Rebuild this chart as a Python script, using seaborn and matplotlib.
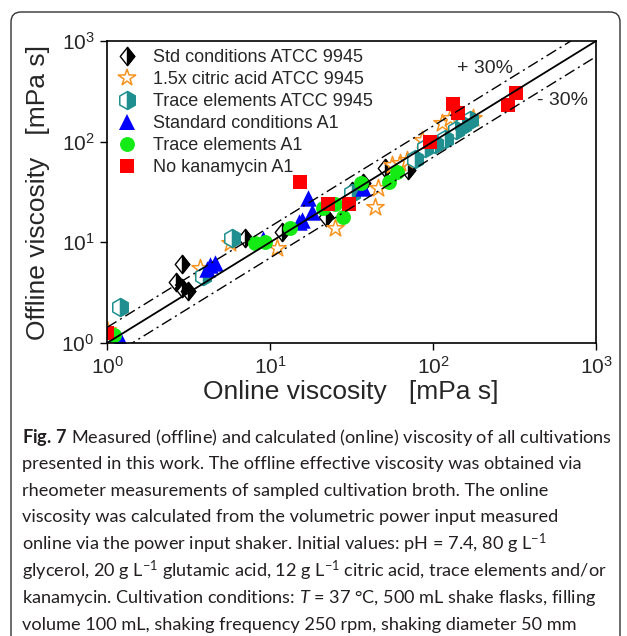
import numpy as np
import matplotlib
matplotlib.use("Agg")
import matplotlib.pyplot as plt
import seaborn as sns
from matplotlib.path import Path
from matplotlib.lines import Line2D
from matplotlib.patches import FancyBboxPatch

# --- data (online, offline viscosity in mPa s) ---
std_x = [2.9, 2.65, 2.9, 3.15, 7.0, 11.9, 22, 32, 37, 51, 70]
std_y = [6.1, 4.0, 3.5, 3.3, 11.0, 12.6, 17.8, 32, 39, 55, 52]

cit_x = [1.0, 3.7, 5.7, 11, 25, 44, 46, 56, 63, 69, 86, 114, 127, 176]
cit_y = [1.35, 5.6, 9.8, 8.8, 14, 22.4, 35, 59, 61, 66, 104, 153, 172, 172]

trace_x = [1.2, 3.9, 5.85, 32, 78, 89, 103, 119, 138, 153, 169]
trace_y = [2.3, 4.6, 11, 31, 67, 86, 95, 106, 130, 146, 164]

tri_x = [1.2, 4.1, 4.3, 4.6, 9.1, 15, 15.7, 17, 18, 37]
tri_y = [1.1, 5.4, 6.0, 6.2, 10.8, 16, 16.6, 27.5, 20, 35]

green_x = [1.1, 8.1, 9.3, 13.3, 21, 25, 28, 36, 54, 60]
green_y = [1.2, 9.8, 10.1, 14, 22, 24, 18, 39, 40, 50]

red_x = [1.0, 15.3, 22.7, 30.5, 96, 133, 142, 288, 323]
red_y = [1.25, 40, 24.3, 24.3, 99, 236, 192, 231, 304]

labels = ["Std conditions ATCC 9945", "1.5x citric acid ATCC 9945",
          "Trace elements ATCC 9945", "Standard conditions A1",
          "Trace elements A1", "No kanamycin A1"]

ref_x = np.array([1, 1000])
band = 0.7

caption = [
    r"$\mathbf{Fig.\,7}$ Measured (offline) and calculated (online) viscosity of all cultivations",
    "presented in this work. The offline effective viscosity was obtained via",
    "rheometer measurements of sampled cultivation broth. The online",
    "viscosity was calculated from the volumetric power input measured",
    r"online via the power input shaker. Initial values: pH = 7.4, 80 g L$^{\mathdefault{-1}}$",
    r"glycerol, 20 g L$^{\mathdefault{-1}}$ glutamic acid, 12 g L$^{\mathdefault{-1}}$ citric acid, trace elements and/or",
    r"kanamycin. Cultivation conditions: $T$ = 37 °C, 500 mL shake flasks, filling",
    "volume 100 mL, shaking frequency 250 rpm, shaking diameter 50 mm",
]

sns.set_style("ticks")
plt.rcParams["font.family"] = ["Liberation Sans", "DejaVu Sans"]
plt.rcParams["mathtext.fontset"] = "custom"
plt.rcParams["mathtext.rm"] = "Lato"
plt.rcParams["mathtext.it"] = "Lato:italic"
plt.rcParams["mathtext.bf"] = "Lato:bold"

orange = "#f7931e"
teal = "#1f8f8f"
blue = "#0000ff"
green = "#14ea14"
red = "#ff0000"

# marker sizes (points^2)
s_diam, s_star, s_hex, s_tri, s_circ, s_sq = 170, 170, 165, 140, 115, 90

# custom marker shapes (full + right half)
diam_full = Path([(0, 1), (0.8, 0), (0, -1), (-0.8, 0), (0, 1)], closed=True)
diam_half = Path([(0, 1), (0.8, 0), (0, -1), (0, 1)], closed=True)
c, s_ = 0.866, 0.5
hex_full = Path([(0, 1), (c, s_), (c, -s_), (0, -1), (-c, -s_), (-c, s_), (0, 1)], closed=True)
hex_half = Path([(0, 1), (c, s_), (c, -s_), (0, -1), (0, 1)], closed=True)

fig = plt.figure(figsize=(6.27, 6.36), dpi=100)
ax = fig.add_axes([0.1707, 0.4607, 0.7799, 0.4748])
ax.set(xscale="log", yscale="log")

# reference lines
sns.lineplot(x=ref_x, y=ref_x, color="black", lw=1.3, ax=ax)
sns.lineplot(x=ref_x, y=ref_x / band, color="black", lw=1.0, ls=(0, (8, 3, 1.5, 3)), ax=ax)
sns.lineplot(x=ref_x, y=ref_x * band, color="black", lw=1.0, ls=(0, (8, 3, 1.5, 3)), ax=ax)

# Std conditions ATCC 9945
sns.scatterplot(x=std_x, y=std_y, marker=diam_full, s=s_diam, color="white",
                edgecolor="black", linewidth=1.0, ax=ax)
sns.scatterplot(x=std_x, y=std_y, marker=diam_half, s=s_diam, color="black",
                edgecolor="black", linewidth=1.0, ax=ax)
# 1.5x citric acid
sns.scatterplot(x=cit_x, y=cit_y, marker="*", s=s_star, color="white",
                edgecolor=orange, linewidth=1.1, ax=ax)
# Trace elements ATCC 9945
sns.scatterplot(x=trace_x, y=trace_y, marker=hex_full, s=s_hex, color="white",
                edgecolor=teal, linewidth=1.1, ax=ax)
sns.scatterplot(x=trace_x, y=trace_y, marker=hex_half, s=s_hex, color=teal,
                edgecolor=teal, linewidth=1.1, ax=ax)
# A1 series
sns.scatterplot(x=tri_x, y=tri_y, marker="^", s=s_tri, color=blue, linewidth=0, ax=ax)
sns.scatterplot(x=green_x, y=green_y, marker="o", s=s_circ, color=green, linewidth=0, ax=ax)
sns.scatterplot(x=red_x, y=red_y, marker="s", s=s_sq, color=red, linewidth=0, ax=ax)

ax.set_xlim(1, 1000)
ax.set_ylim(1, 1000)
ax.minorticks_off()
ax.tick_params(axis="both", which="major", length=5, width=1.0, labelsize=15,
               direction="out", color="black", pad=4)
for sp in ax.spines.values():
    sp.set_visible(True)
    sp.set_color("black")
    sp.set_linewidth(1.2)

ax.set_xlabel("Online viscosity   [mPa s]", fontsize=19)
ax.set_ylabel("Offline viscosity   [mPa s]", fontsize=19)
ax.xaxis.set_label_coords(0.499, -0.162)
ax.xaxis.label.set_va("center")
ax.yaxis.set_label_coords(-0.141, 0.5)
ax.yaxis.label.set_va("center")

ax.text(208, 538, "+ 30%", fontsize=14, ha="center", va="center")
ax.text(620, 259, "- 30%", fontsize=14, ha="center", va="center")

# legend
handles = [
    (Line2D([], [], ls="", marker=diam_full, ms=np.sqrt(s_diam), mfc="white", mec="black", mew=1.0),
     Line2D([], [], ls="", marker=diam_half, ms=np.sqrt(s_diam), mfc="black", mec="black", mew=1.0)),
    Line2D([], [], ls="", marker="*", ms=np.sqrt(s_star), mfc="white", mec=orange, mew=1.1),
    (Line2D([], [], ls="", marker=hex_full, ms=np.sqrt(s_hex), mfc="white", mec=teal, mew=1.1),
     Line2D([], [], ls="", marker=hex_half, ms=np.sqrt(s_hex), mfc=teal, mec=teal, mew=1.1)),
    Line2D([], [], ls="", marker="^", ms=np.sqrt(s_tri), mfc=blue, mec=blue, mew=0),
    Line2D([], [], ls="", marker="o", ms=np.sqrt(s_circ), mfc=green, mec=green, mew=0),
    Line2D([], [], ls="", marker="s", ms=np.sqrt(s_sq), mfc=red, mec=red, mew=0),
]
ax.legend(handles, labels, loc="upper left", bbox_to_anchor=(0.0225, 0.972),
          frameon=False, fontsize=13, handlelength=1.0, handletextpad=0.94,
          labelspacing=0.27, borderpad=0, borderaxespad=0)

# rounded frame around figure + caption
frame = FancyBboxPatch((0.11, -0.5), 6.09, 6.74, boxstyle="round,pad=0,rounding_size=0.1",
                       transform=fig.dpi_scale_trans, fill=False, edgecolor="#333333",
                       linewidth=1.0)
fig.patches.append(frame)

y0 = 1 - 437 / 636
dy = 26.8 / 636
for i, line in enumerate(caption):
    fig.text(22 / 627, y0 - i * dy, line, fontsize=13.1, family=["Lato", "DejaVu Sans"],
             color="#231f20", ha="left", va="center")

fig.savefig("out.png", dpi=100)
